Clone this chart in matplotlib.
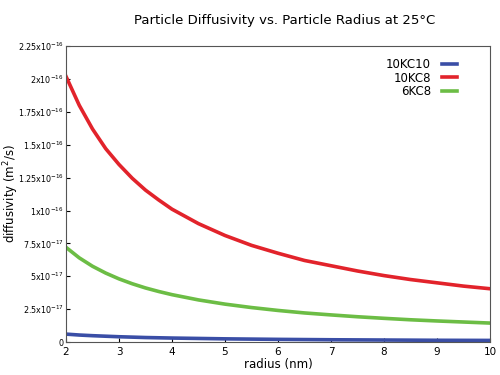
import matplotlib
matplotlib.use("Agg")
import matplotlib.pyplot as plt

radius = [2, 2.25, 2.5, 2.75, 3, 3.25, 3.5, 3.75, 4, 4.5, 5, 5.5, 6, 6.5, 7, 7.5, 8, 8.5, 9, 9.5, 10]

# diffusivity (m^2/s)
d_10kc10 = [0.60e-17, 0.53e-17, 0.48e-17, 0.44e-17, 0.40e-17, 0.37e-17, 0.34e-17, 0.32e-17,
            0.30e-17, 0.27e-17, 0.24e-17, 0.22e-17, 0.20e-17, 0.185e-17, 0.17e-17, 0.16e-17,
            0.15e-17, 0.14e-17, 0.13e-17, 0.125e-17, 0.12e-17]
d_10kc8 = [2.02e-16, 1.80e-16, 1.62e-16, 1.47e-16, 1.35e-16, 1.245e-16, 1.155e-16, 1.08e-16,
           1.01e-16, 0.90e-16, 0.81e-16, 0.735e-16, 0.675e-16, 0.62e-16, 0.58e-16, 0.54e-16,
           0.505e-16, 0.475e-16, 0.45e-16, 0.425e-16, 0.405e-16]
d_6kc8 = [7.2e-17, 6.4e-17, 5.76e-17, 5.24e-17, 4.8e-17, 4.43e-17, 4.11e-17, 3.84e-17,
          3.6e-17, 3.2e-17, 2.88e-17, 2.62e-17, 2.4e-17, 2.21e-17, 2.06e-17, 1.92e-17,
          1.8e-17, 1.69e-17, 1.6e-17, 1.52e-17, 1.44e-17]

ytick_vals = [0, 2.5e-17, 5e-17, 7.5e-17, 1e-16, 1.25e-16, 1.5e-16, 1.75e-16, 2e-16, 2.25e-16]
ytick_labels = ["0", "2.5x10$^{-17}$", "5x10$^{-17}$", "7.5x10$^{-17}$", "1x10$^{-16}$",
                "1.25x10$^{-16}$", "1.5x10$^{-16}$", "1.75x10$^{-16}$", "2x10$^{-16}$", "2.25x10$^{-16}$"]

fig = plt.figure(figsize=(5, 3.75), dpi=100)
ax = fig.add_axes([0.132, 0.088, 0.848, 0.789])

ax.plot(radius, d_10kc10, color="#3a4ea6", lw=2.6, label="10KC10")
ax.plot(radius, d_10kc8, color="#e2232b", lw=2.6, label="10KC8")
ax.plot(radius, d_6kc8, color="#6cbd45", lw=2.6, label="6KC8")

ax.set_xlim(2, 10)
ax.set_ylim(0, 2.25e-16)
ax.set_yticks(ytick_vals)
ax.set_yticklabels(ytick_labels)
ax.set_xticks(range(2, 11))
ax.tick_params(axis="y", labelsize=5.8, direction="in", length=3, pad=1.5)
ax.tick_params(axis="x", labelsize=7.5, direction="in", length=3)
for s in ax.spines.values():
    s.set_color("#555555")

ax.set_xlabel("radius (nm)", fontsize=8.5, labelpad=1)
ax.set_ylabel("diffusivity (m$^2$/s)", fontsize=8.5)
ax.yaxis.set_label_coords(-0.105, 0.5)
fig.text(0.57, 0.935, "Particle Diffusivity vs. Particle Radius at 25\u00b0C",
         ha="center", fontsize=9.5)

leg = ax.legend(loc="upper right", bbox_to_anchor=(0.95, 1.0), frameon=False,
                markerfirst=False, fontsize=8.5, handlelength=1.3, labelspacing=0.05,
                borderaxespad=0.6, handletextpad=0.9)

fig.savefig("out.png", dpi=100)
